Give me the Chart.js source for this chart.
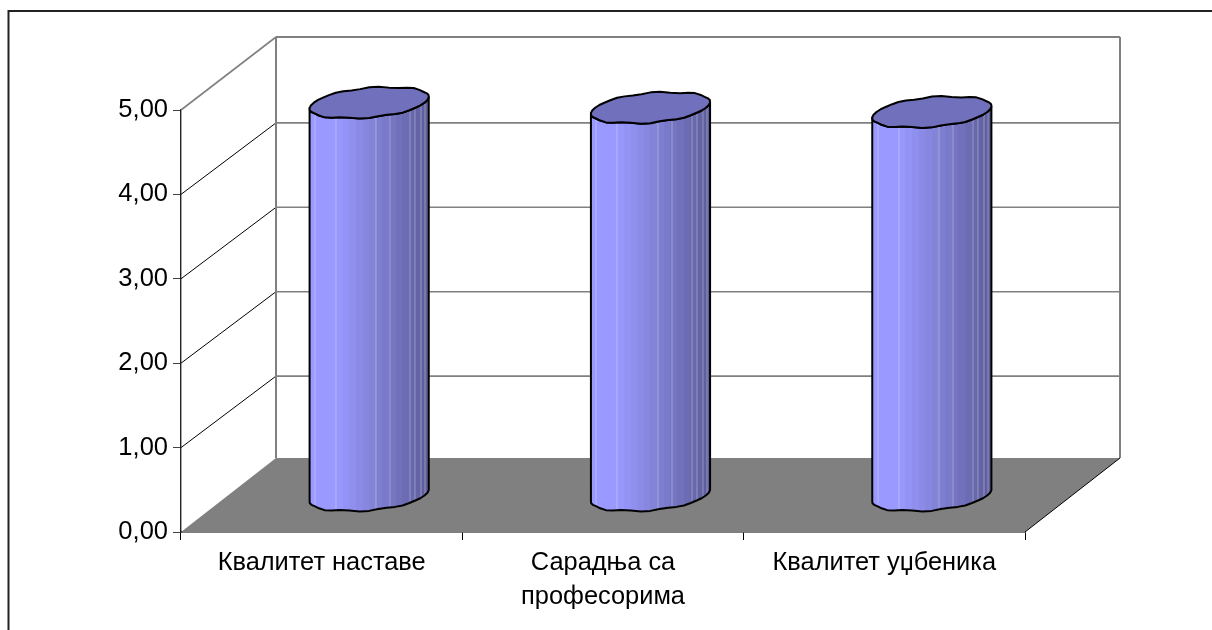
<!DOCTYPE html>
<html><head><meta charset="utf-8">
<style>html,body{margin:0;padding:0;background:#fff}canvas{display:block}</style>
<script src="https://cdn.jsdelivr.net/npm/chart.js@4"></script>
</head><body><canvas id="c" width="1212" height="630"></canvas>
<script>
const categories = ["Квалитет наставе", ["Сарадња са", "професорима"], "Квалитет уџбеника"];
const seriesValues = [4.66, 4.60, 4.55];
const yTicks = [0, 1, 2, 3, 4, 5];

const DX = 95, DY_FLOOR = -74, DY_TOP = -73, DY_MID = -71.5;
const GREY = '#808080';
const seams = [5, 26, 66, 80, 100, 105, 111, 115];

function bandColor(f) {
  const a = [153, 153, 255], m = [127, 127, 210], b = [90, 90, 150];
  const lerp = (p, q, t) => p.map((v, i) => Math.round(v + (q[i] - v) * t));
  const c = f < 0.2 ? a : f < 0.55 ? lerp(a, m, (f - 0.2) / 0.35) : lerp(m, b, (f - 0.55) / 0.45);
  return `rgb(${c[0]},${c[1]},${c[2]})`;
}
function bodyGradient(ctx, left, width) {
  const g = ctx.createLinearGradient(left, 0, left + width, 0);
  const N = 18;
  for (let i = 0; i < N; i++) {
    g.addColorStop(i / N, bandColor(i / N));
    g.addColorStop((i + 1) / N - 0.0001, bandColor(i / N));
  }
  return g;
}
// faceted cap outline: a skewed ellipse with a slight ripple, like the faceted original
function capPoints(cx, cy, w) {
  const n = 40, e = 0.92, raw = [];
  const sp = v => Math.sign(v) * Math.pow(Math.abs(v), e);
  for (let k = 0; k < n; k++) {
    const t = 2 * Math.PI * k / n;
    const c = sp(Math.cos(t)), s = sp(Math.sin(t));
    raw.push([56 * c + 20 * s, -15.5 * s + 0.8 * Math.sin(9 * t + 1) * Math.abs(Math.sin(t))]);
  }
  const xs = raw.map(p => p[0]);
  const lo = Math.min(...xs), hi = Math.max(...xs);
  const f = w / (hi - lo);
  return raw.map(p => [cx + (p[0] - (lo + hi) / 2) * f, cy + p[1]]);
}
function frontArc(cx, cy, w) {
  const pts = capPoints(cx, cy, w), xs = pts.map(p => p[0]);
  const iL = xs.indexOf(Math.min(...xs)), iR = xs.indexOf(Math.max(...xs));
  const arc = [];
  for (let i = iL; ; i = (i + 1) % pts.length) { arc.push(pts[i]); if (i === iR) break; }
  return arc;
}
function tracePts(c, pts, move = true) {
  pts.forEach((p, i) => (i === 0 && move) ? c.moveTo(p[0], p[1]) : c.lineTo(p[0], p[1]));
}
function silhouette(c, bar) {
  const top = frontArc(bar.x, bar.y, bar.width);
  const bot = frontArc(bar.x, bar.base, bar.width);
  c.beginPath();
  tracePts(c, top);
  tracePts(c, bot.slice().reverse(), false);
  c.closePath();
}
const box3d = {
  id: 'box3d',
  beforeDatasetsDraw(chart) {
    const c = chart.ctx, y = chart.scales.y, a = chart.chartArea;
    const L = a.left, R = a.right;
    const y0 = y.getPixelForValue(0), y5 = y.getPixelForValue(5);
    c.save();
    c.strokeStyle = '#222'; c.lineWidth = 2;
    c.beginPath(); c.moveTo(8.5, 630); c.lineTo(8.5, 11); c.lineTo(1212, 11); c.stroke();
    c.fillStyle = GREY;
    c.beginPath(); c.moveTo(L, y0); c.lineTo(L + DX, y0 + DY_FLOOR); c.lineTo(R + DX, y0 + DY_FLOOR); c.lineTo(R, y0); c.closePath(); c.fill();
    yTicks.forEach(v => {
      if (v === 0) return;
      const p = y.getPixelForValue(v), d = v === 5 ? DY_TOP : DY_MID;
      c.strokeStyle = GREY; c.lineWidth = v === 5 ? 2 : 1.6;
      c.beginPath(); c.moveTo(L + DX, p + d); c.lineTo(R + DX, p + d); c.stroke();
      c.strokeStyle = v === 5 ? GREY : '#000'; c.lineWidth = v === 5 ? 1.6 : 1;
      c.beginPath(); c.moveTo(L, p); c.lineTo(L + DX, p + d); c.stroke();
    });
    c.strokeStyle = GREY; c.lineWidth = 2;
    c.beginPath();
    c.moveTo(L + DX, y5 + DY_TOP); c.lineTo(L + DX, y0 + DY_FLOOR);
    c.moveTo(R + DX, y5 + DY_TOP); c.lineTo(R + DX, y0 + DY_FLOOR);
    c.stroke();
    c.strokeStyle = '#000'; c.lineWidth = 1;
    c.beginPath(); c.moveTo(R, y0); c.lineTo(R + DX, y0 + DY_FLOOR); c.stroke();
    c.restore();
  },
  beforeDatasetDraw(chart, args) {
    const c = chart.ctx, bars = chart.getDatasetMeta(args.index).data;
    c.save();
    c.translate(DX / 2, -36);
    bars.forEach(bar => {
      silhouette(c, bar);
      c.fillStyle = bodyGradient(c, bar.x - bar.width / 2, bar.width);
      c.fill();
    });
  },
  afterDatasetDraw(chart, args) {
    const c = chart.ctx, bars = chart.getDatasetMeta(args.index).data;
    bars.forEach(bar => {
      const left = bar.x - bar.width / 2;
      c.save();
      silhouette(c, bar); c.clip();
      c.strokeStyle = 'rgba(255,255,255,0.32)'; c.lineWidth = 1;
      seams.forEach(s => {
        const x = Math.round(left + s * bar.width / 119) + 0.5;
        c.beginPath(); c.moveTo(x, bar.y - 30); c.lineTo(x, bar.base + 30); c.stroke();
      });
      c.restore();
      silhouette(c, bar);
      c.strokeStyle = '#000'; c.lineWidth = 2; c.lineJoin = 'round';
      c.stroke();
      c.beginPath(); tracePts(c, capPoints(bar.x, bar.y, bar.width)); c.closePath();
      c.fillStyle = '#7070BC'; c.fill();
      c.lineWidth = 2; c.stroke();
    });
    c.restore();
  }
};
new Chart(document.getElementById('c'), {
  type: 'bar',
  data: {
    labels: categories,
    datasets: [{
      data: seriesValues,
      borderWidth: 0,
      backgroundColor: 'rgba(0,0,0,0)',
      barPercentage: 0.4235,
      categoryPercentage: 1
    }]
  },
  plugins: [box3d],
  options: {
    responsive: false,
    animation: false,
    layout: { padding: { top: 110, right: 187, left: 0, bottom: 0 } },
    plugins: { legend: { display: false }, title: { display: false }, tooltip: { enabled: false } },
    scales: {
      x: {
        afterFit(s) { s.height = 98; },
        border: { color: '#000', width: 1.6 },
        grid: { drawOnChartArea: false, drawTicks: true, tickLength: 8, color: '#000', tickWidth: 1 },
        ticks: { color: '#000', maxRotation: 0, autoSkip: false, padding: 6,
          font: { family: '"Liberation Sans", Arial, sans-serif', size: 25.4, lineHeight: 1.33 } }
      },
      y: {
        min: 0, max: 5,
        afterFit(s) { s.width = 181; },
        afterBuildTicks(s) { s.ticks = yTicks.map(v => ({ value: v })); },
        border: { color: '#222', width: 1.4 },
        grid: { drawOnChartArea: false, drawTicks: true, tickLength: 8, color: '#444', tickWidth: 1 },
        ticks: { color: '#000', padding: 5,
          callback: v => v.toFixed(2).replace('.', ','),
          font: { family: '"Liberation Sans", Arial, sans-serif', size: 25.5 } }
      }
    }
  }
});
</script></body></html>
